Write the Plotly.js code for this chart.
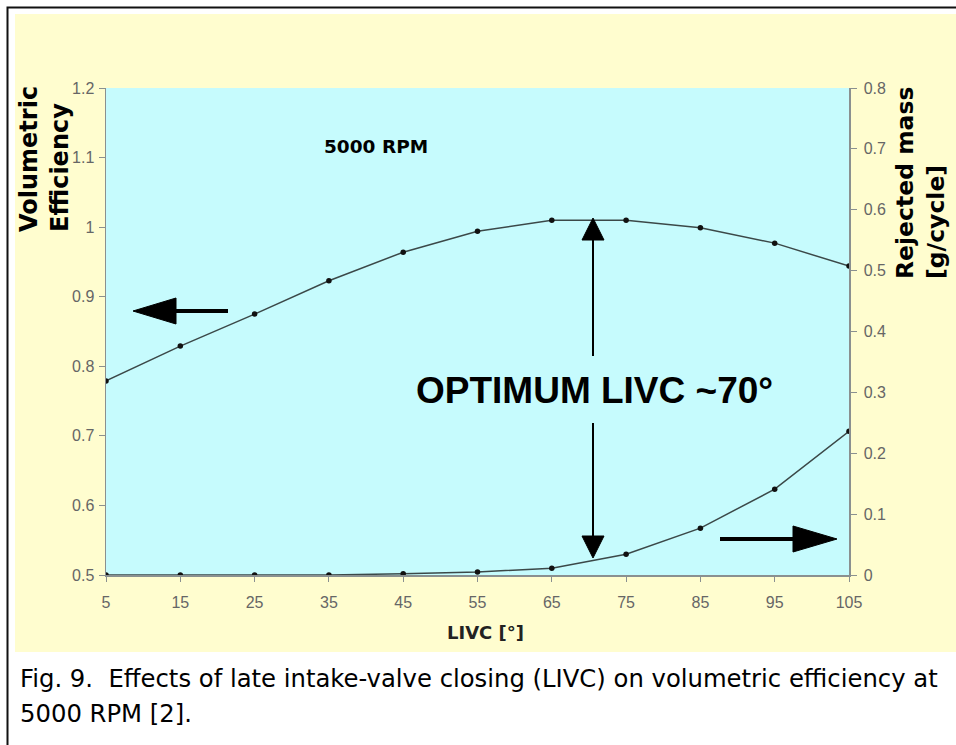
<!DOCTYPE html>
<html><head><meta charset="utf-8">
<script src="https://cdn.plot.ly/plotly-3.0.1.min.js"></script>
<style>html,body{margin:0;padding:0;background:#fff}#chart{width:956px;height:745px}</style>
</head><body><div id="chart"></div>
<script>
// ---- data ----
const livc = [5, 15, 25, 35, 45, 55, 65, 75, 85, 95, 105];
const volEff = [0.779, 0.829, 0.875, 0.923, 0.964, 0.994, 1.010, 1.010, 0.999, 0.977, 0.944];
const rejectedMass = [0, 0, 0, 0, 0.002, 0.005, 0.011, 0.034, 0.077, 0.141, 0.236];
const xTickVals = [5, 15, 25, 35, 45, 55, 65, 75, 85, 95, 105];
const leftTickVals = [0.5, 0.6, 0.7, 0.8, 0.9, 1.0, 1.1, 1.2];
const rightTickVals = [0, 0.1, 0.2, 0.3, 0.4, 0.5, 0.6, 0.7, 0.8];

// ---- layout helpers (pixel -> paper) ----
const W = 956, H = 745, ML = 106, MR = 107, MT = 88, MB = 170;
const PW = W - ML - MR, PH = H - MT - MB;
const px = v => (v - ML) / PW;
const py = v => (H - MB - v) / PH;
const pt = (x, y) => px(x) + ',' + py(y);
const tri = (a, b, c) => 'M ' + pt(a[0], a[1]) + ' L ' + pt(b[0], b[1]) + ' L ' + pt(c[0], c[1]) + ' Z';

const lineCol = '#3b4848';
const traces = [
  {x: livc, y: volEff, type: 'scatter', mode: 'lines+markers', yaxis: 'y',
   line: {color: lineCol, width: 1.5}, marker: {color: '#111', size: 5.5}, hoverinfo: 'x+y'},
  {x: livc, y: rejectedMass, type: 'scatter', mode: 'lines+markers', yaxis: 'y2',
   line: {color: lineCol, width: 1.5}, marker: {color: '#111', size: 5.5}, hoverinfo: 'x+y'}
];

const tickFont = {family: 'Liberation Sans, Arial, sans-serif', size: 16, color: '#666'};
const axisCol = '#8a9090';

const shapes = [
  // yellow panel
  {type: 'rect', xref: 'paper', yref: 'paper', x0: px(15), x1: px(970), y0: py(14), y1: py(652),
   fillcolor: '#fffdcf', line: {width: 0}, layer: 'below'},
  // cyan plot area
  {type: 'rect', xref: 'paper', yref: 'paper', x0: 0, x1: 1, y0: 0, y1: 1,
   fillcolor: '#c6fbfd', line: {width: 0}, layer: 'below'},
  // outer frame
  {type: 'rect', xref: 'paper', yref: 'paper', x0: px(7.5), x1: px(975), y0: py(7.5), y1: py(775),
   fillcolor: 'rgba(0,0,0,0)', line: {color: '#111', width: 2}},
  // left arrow
  {type: 'line', xref: 'paper', yref: 'paper', x0: px(228), x1: px(172), y0: py(311), y1: py(311),
   line: {color: '#000', width: 4}},
  {type: 'path', xref: 'paper', yref: 'paper', path: tri([133, 311], [176, 298], [176, 324]),
   fillcolor: '#000', line: {color: '#000', width: 1}},
  // right arrow
  {type: 'line', xref: 'paper', yref: 'paper', x0: px(720), x1: px(796), y0: py(539), y1: py(539),
   line: {color: '#000', width: 4}},
  {type: 'path', xref: 'paper', yref: 'paper', path: tri([837, 539], [793, 526], [793, 552]),
   fillcolor: '#000', line: {color: '#000', width: 1}},
  // vertical double arrow (up part)
  {type: 'line', xref: 'paper', yref: 'paper', x0: px(593), x1: px(593), y0: py(356), y1: py(236),
   line: {color: '#000', width: 2}},
  {type: 'path', xref: 'paper', yref: 'paper', path: tri([593, 218], [582, 240], [604, 240]),
   fillcolor: '#000', line: {color: '#000', width: 1}},
  // vertical double arrow (down part)
  {type: 'line', xref: 'paper', yref: 'paper', x0: px(593), x1: px(593), y0: py(423), y1: py(540),
   line: {color: '#000', width: 2}},
  {type: 'path', xref: 'paper', yref: 'paper', path: tri([593, 558], [582, 536], [604, 536]),
   fillcolor: '#000', line: {color: '#000', width: 1}}
];

const boldV = 'DejaVu Sans, Verdana, sans-serif';
const ann = (x, y, text, font, extra) => Object.assign({
  xref: 'paper', yref: 'paper', x: px(x), y: py(y), text: text, showarrow: false,
  xanchor: 'center', yanchor: 'middle', font: font}, extra || {});
const annotations = [
  ann(376, 146, '<b>5000 RPM</b>', {family: boldV, size: 18.5, color: '#000'}),
  ann(594, 390, '<b>OPTIMUM LIVC ~70°</b>', {family: 'Liberation Sans, Arial, sans-serif', size: 37, color: '#000'}),
  ann(44, 159, '<b>Volumetric<br>Efficiency</b>', {family: boldV, size: 24, color: '#000'}, {textangle: -90, align: 'left'}),
  ann(921, 183, '<b>Rejected mass<br>[g/cycle]</b>', {family: boldV, size: 23.5, color: '#000'}, {textangle: -90, align: 'left'}),
  ann(485, 632, '<b>LIVC [°]</b>', {family: boldV, size: 18, color: '#222'}),
  ann(18, 678, 'Fig. 9.  Effects of late intake-valve closing (LIVC) on volumetric efficiency at',
      {family: 'DejaVu Sans, Verdana, sans-serif', size: 24.3, color: '#000'}, {xanchor: 'left'}),
  ann(18, 713, '5000 RPM [2].',
      {family: 'DejaVu Sans, Verdana, sans-serif', size: 24.3, color: '#000'}, {xanchor: 'left'})
];

const layout = {
  width: W, height: H,
  margin: {l: ML, r: MR, t: MT, b: MB, pad: 0},
  paper_bgcolor: '#ffffff',
  plot_bgcolor: 'rgba(0,0,0,0)',
  showlegend: false,
  xaxis: {range: [5, 105], tickvals: xTickVals, ticktext: xTickVals.map(String), showgrid: false, zeroline: false,
          showline: true, linecolor: axisCol, linewidth: 1.5, ticks: 'outside', ticklen: 5, tickcolor: axisCol,
          tickfont: tickFont, ticklabelstandoff: 7},
  yaxis: {range: [0.5, 1.2], tickvals: leftTickVals, ticktext: leftTickVals.map(String), showgrid: false, zeroline: false,
          showline: true, linecolor: axisCol, linewidth: 1.5, ticks: 'outside', ticklen: 6, tickcolor: axisCol,
          tickfont: tickFont, ticklabelstandoff: 1},
  yaxis2: {range: [0, 0.8], overlaying: 'y', side: 'right', tickvals: rightTickVals, ticktext: rightTickVals.map(String),
           showgrid: false, zeroline: false, showline: true, linecolor: axisCol, linewidth: 1.5,
           ticks: 'outside', ticklen: 6, tickcolor: axisCol, tickfont: tickFont, ticklabelstandoff: 4},
  shapes: shapes,
  annotations: annotations
};

Plotly.newPlot('chart', traces, layout, {displayModeBar: false, staticPlot: true});
</script>
</body></html>
